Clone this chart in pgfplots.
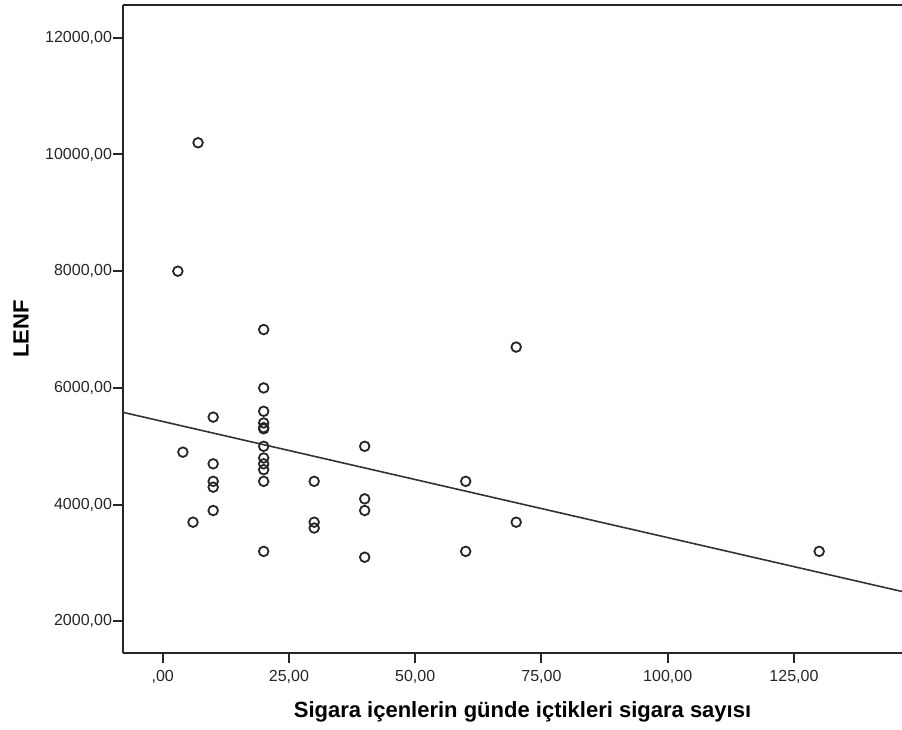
\documentclass[border=0pt]{standalone}
\usepackage{fontspec}
\setmainfont{Liberation Sans}
\usepackage{pgfplots}
\pgfplotsset{compat=1.18}

\begin{document}
\begin{tikzpicture}
\begin{axis}[
    scale only axis,
    width=389.5pt, height=324pt,
    xmin=-7.86, xmax=146.4,
    ymin=1459, ymax=12560,
    axis x line*=box, axis y line*=left,
    axis line style={black!85, line width=1pt, -},
    xtick pos=left, ytick pos=left,
    tick align=outside,
    major tick length=5pt,
    tick style={black!85, line width=1pt},
    xtick={0,25,50,75,100,125},
    xticklabels={{,00},{25,00},{50,00},{75,00},{100,00},{125,00}},
    ytick={2000,4000,6000,8000,10000,12000},
    yticklabels={{2000,00},{4000,00},{6000,00},{8000,00},{10000,00},{12000,00}},
    tick label style={font=\fontsize{8}{9}\selectfont, text=black!85},
    yticklabel style={xshift=3pt},
    xlabel={Sigara içenlerin günde içtikleri sigara sayısı},
    ylabel={LENF},
    xlabel style={at={(axis description cs:0.5,0)}, anchor=base,
        yshift=-32pt, xshift=5pt, font=\fontsize{11}{13}\bfseries},
    ylabel style={at={(axis description cs:0,0.5)}, anchor=center,
        yshift=51pt, font=\fontsize{11}{13}\bfseries},
]
% regression line
\addplot[black!80, line width=0.8pt] coordinates {(-7.86,5582) (146.4,2513)};

% observations
\addplot[only marks, mark=o, mark size=2.4pt,
    mark options={line width=0.9pt, black!85}] coordinates {
    (3,8000) (4,4900) (6,3700) (7,10200)
    (10,5500) (10,4700) (10,4400) (10,4300) (10,3900)
    (20,7000) (20,6000) (20,5600) (20,5400) (20,5320) (20,5300)
    (20,5000) (20,4800) (20,4700) (20,4600) (20,4400) (20,3200)
    (30,4400) (30,3700) (30,3600)
    (40,5000) (40,4100) (40,3900) (40,3100)
    (60,4400) (60,3200)
    (70,6700) (70,3700)
    (130,3200)
};
\end{axis}
\pgfresetboundingbox
\path[use as bounding box] ([shift={(-61.5pt,-38pt)}]current axis.south west)
    rectangle ([shift={(0pt,2.5pt)}]current axis.north east);
\end{tikzpicture}
\end{document}
